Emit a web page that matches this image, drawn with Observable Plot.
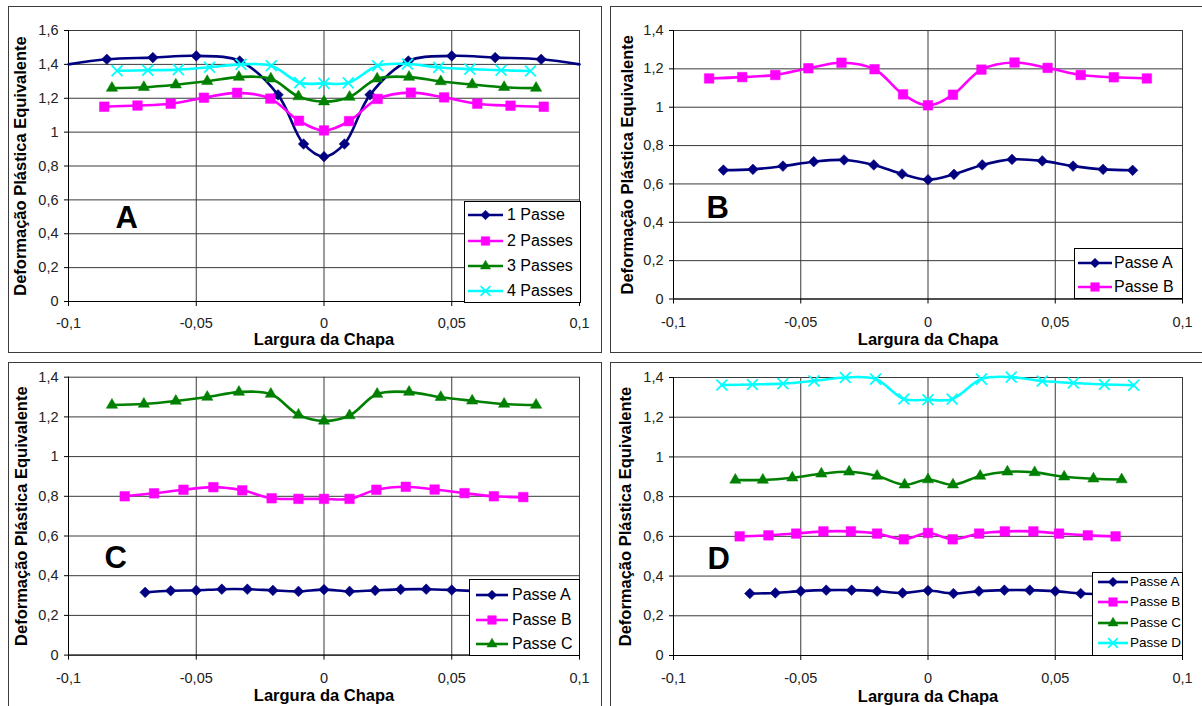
<!DOCTYPE html>
<html><head><meta charset="utf-8">
<script src="https://cdn.jsdelivr.net/npm/d3@7"></script>
<script src="https://cdn.jsdelivr.net/npm/@observablehq/plot@0.6"></script>
<style>
body{margin:0;background:#fff;}
#wrap{position:relative;width:1202px;height:706px;overflow:hidden;font-family:"Liberation Sans",Arial,sans-serif;color:#000;}
.plotbox{position:absolute;}
.frame{position:absolute;border:1px solid #3c3c3c;box-sizing:border-box;pointer-events:none;}
.legend{position:absolute;border:1px solid #000;background:#fff;box-sizing:border-box;}
.legend .lt{position:absolute;white-space:nowrap;line-height:1;}
</style></head><body><div id="wrap"></div>
<script>
// ---------- data ----------
const xTicks = [-0.1, -0.05, 0, 0.05, 0.1];
const yTicks16 = [0, 0.2, 0.4, 0.6, 0.8, 1, 1.2, 1.4, 1.6];
const yTicks14 = [0, 0.2, 0.4, 0.6, 0.8, 1, 1.2, 1.4];
const xLabel = "Largura da Chapa";
const yLabel = "Deformação Plástica Equivalente";

// Panel A
const passe1X = [-0.1, -0.085, -0.067, -0.05, -0.033, -0.018, -0.008, 0, 0.008, 0.018, 0.033, 0.05, 0.067, 0.085, 0.1];
const passe1Y = [1.40, 1.43, 1.44, 1.45, 1.42, 1.22, 0.93, 0.855, 0.93, 1.22, 1.42, 1.45, 1.44, 1.43, 1.40];
const passes2X = [-0.086, -0.073, -0.06, -0.047, -0.034, -0.021, -0.0098, 0, 0.0098, 0.021, 0.034, 0.047, 0.06, 0.073, 0.086];
const passes2Y = [1.15, 1.157, 1.168, 1.203, 1.232, 1.198, 1.067, 1.01, 1.065, 1.196, 1.233, 1.205, 1.168, 1.156, 1.15];
const passes3X = [-0.083, -0.0705, -0.058, -0.0457, -0.0333, -0.0208, -0.01, 0, 0.01, 0.0208, 0.0333, 0.0457, 0.058, 0.0705, 0.083];
const passes3Y = [1.26, 1.265, 1.28, 1.30, 1.325, 1.315, 1.21, 1.18, 1.207, 1.315, 1.325, 1.299, 1.281, 1.265, 1.26];
const passes4X = [-0.081, -0.069, -0.057, -0.0448, -0.0325, -0.0206, -0.0095, 0, 0.0095, 0.021, 0.0327, 0.0449, 0.0571, 0.0693, 0.0808];
const passes4Y = [1.362, 1.365, 1.369, 1.383, 1.40, 1.392, 1.292, 1.288, 1.291, 1.392, 1.402, 1.382, 1.372, 1.365, 1.361];

// Panel B
const bPasseAX = [-0.0804, -0.0688, -0.057, -0.0449, -0.033, -0.0213, -0.0102, 0, 0.0102, 0.0213, 0.033, 0.0449, 0.057, 0.0688, 0.0804];
const bPasseAY = [0.672, 0.676, 0.693, 0.716, 0.725, 0.699, 0.652, 0.622, 0.65, 0.699, 0.728, 0.72, 0.693, 0.676, 0.671];

// Panel C
const cPasseAX = [-0.07, -0.06, -0.05, -0.04, -0.03, -0.02, -0.01, 0, 0.01, 0.02, 0.03, 0.04, 0.05, 0.06, 0.07];
const cPasseAY = [0.316, 0.324, 0.326, 0.332, 0.332, 0.326, 0.321, 0.33, 0.321, 0.326, 0.331, 0.332, 0.328, 0.322, 0.316];
const cPasseBX = [-0.078, -0.0665, -0.055, -0.0433, -0.032, -0.0205, -0.01, 0, 0.01, 0.0205, 0.032, 0.0433, 0.055, 0.0665, 0.078];
const cPasseBY = [0.80, 0.815, 0.833, 0.846, 0.83, 0.79, 0.787, 0.787, 0.787, 0.833, 0.848, 0.834, 0.816, 0.80, 0.796];

// Panel D
const dPasseAX = [-0.07, -0.06, -0.05, -0.04, -0.03, -0.02, -0.01, 0, 0.01, 0.02, 0.03, 0.04, 0.05, 0.06, 0.07];
const dPasseAY = [0.312, 0.315, 0.324, 0.329, 0.329, 0.324, 0.315, 0.327, 0.312, 0.324, 0.329, 0.329, 0.324, 0.312, 0.31];
const dPasseBX = [-0.074, -0.0627, -0.0518, -0.0411, -0.0303, -0.02, -0.0095, 0, 0.0097, 0.0201, 0.0302, 0.0414, 0.0515, 0.0628, 0.0737];
const dPasseBY = [0.60, 0.605, 0.614, 0.625, 0.625, 0.614, 0.585, 0.617, 0.585, 0.614, 0.625, 0.625, 0.614, 0.605, 0.60];
const dPasseCX = [-0.0757, -0.0649, -0.0533, -0.0419, -0.031, -0.02, -0.0092, 0, 0.0098, 0.0205, 0.0312, 0.0419, 0.0535, 0.065, 0.0761];
const dPasseCY = [0.884, 0.884, 0.895, 0.915, 0.925, 0.904, 0.86, 0.886, 0.86, 0.904, 0.925, 0.922, 0.90, 0.89, 0.886];

// ---------- styles ----------
const NAVY = "#000080", MAGENTA = "#ff00ff", GREEN = "#008000", CYAN = "#00ffff";
const sty = {
  diamond: {color: NAVY, sym: d3.symbolDiamond2, r: 4.8, filled: true},
  square: {color: MAGENTA, sym: d3.symbolSquare, r: 5.4, filled: true},
  triangle: {color: GREEN, sym: d3.symbolTriangle, r: 4.2, filled: true},
  times: {color: CYAN, sym: d3.symbolTimes, r: 5.0, filled: false}
};
const fmt = d => String(+(+d).toFixed(3)).replace(".", ",");
const rows = (xs, ys) => xs.map((x, i) => ({x, y: ys[i]}));

const wrap = document.getElementById("wrap");

function seriesMarks(s) {
  const st = sty[s.kind];
  const data = rows(s.x, s.y);
  const pts = data.filter(d => Math.abs(d.x) < 0.0999);
  return [
    Plot.line(data, {x: "x", y: "y", stroke: st.color, strokeWidth: 2.6, curve: "catmull-rom"}),
    Plot.dot(pts, {x: "x", y: "y", symbol: st.sym, r: st.r,
      fill: st.filled ? st.color : "none", stroke: st.color, strokeWidth: st.filled ? 0.5 : 1.8})
  ];
}

function panel(p) {
  const svg = Plot.plot({
    width: p.w, height: p.h,
    marginLeft: p.ml, marginRight: p.mr, marginTop: p.mt, marginBottom: p.mb,
    style: {background: "transparent", fontFamily: "'Liberation Sans', Arial, sans-serif", color: "#000", overflow: "visible"},
    x: {domain: [-0.1, 0.1]},
    y: {domain: [0, p.ymax]},
    marks: [
      Plot.gridX(xTicks, {stroke: "#3a3a3a", strokeOpacity: 1, strokeWidth: 1}),
      Plot.gridY(p.yTicks, {stroke: "#3a3a3a", strokeOpacity: 1, strokeWidth: 1}),
      Plot.ruleX([-0.1], {stroke: "#000"}),
      Plot.ruleY([0], {stroke: "#000"}),
      Plot.axisX({ticks: xTicks, tickFormat: fmt, tickSize: 5, tickPadding: p.xpad, fontSize: 14.5, label: null, stroke: "#000", fill: "#222"}),
      Plot.axisY({ticks: p.yTicks, tickFormat: fmt, tickSize: 4, tickPadding: 6, fontSize: 14.5, label: null, stroke: "#000", fill: "#222"}),
      ...p.series.flatMap(seriesMarks),
      Plot.text([xLabel], {frameAnchor: "bottom", dy: p.xlabDy, lineAnchor: "middle", fontWeight: "bold", fontSize: 16.5}),
      Plot.text([yLabel], {frameAnchor: "left", rotate: -90, dx: p.ylabDx, lineAnchor: "middle", textAnchor: "middle", fontWeight: "bold", fontSize: 16.5}),
      Plot.text([p.letter], {frameAnchor: "top-left", dx: p.letDx, dy: p.letDy, textAnchor: "start", lineAnchor: "top", fontWeight: "bold", fontSize: 31})
    ]
  });
  const box = document.createElement("div");
  box.className = "plotbox";
  box.style.left = p.left + "px"; box.style.top = p.top + "px";
  box.appendChild(svg);
  wrap.appendChild(box);
  const fr = document.createElement("div");
  fr.className = "frame";
  Object.assign(fr.style, {left: p.left + "px", top: p.top + "px", width: p.fw + "px", height: p.fh + "px"});
  wrap.appendChild(fr);
  legend(p.leg, p.series);
}

function legend(L, series) {
  const div = d3.select(wrap).append("div").attr("class", "legend")
    .style("left", L.x + "px").style("top", L.y + "px")
    .style("width", L.w + "px").style("height", L.h + "px");
  series.forEach((s, i) => {
    const st = sty[s.kind];
    const cy = L.rows[i] - L.y - 1;
    const len = L.lineLen;
    const svg = div.append("svg").style("position", "absolute")
      .style("left", (L.lineX - L.x - 1) + "px").style("top", (cy - 8) + "px")
      .attr("width", len).attr("height", 16);
    svg.append("line").attr("x1", 0).attr("x2", len).attr("y1", 8).attr("y2", 8)
      .attr("stroke", st.color).attr("stroke-width", 2.6);
    svg.append("path").attr("d", d3.symbol(st.sym, Math.PI * st.r * st.r * 0.8)())
      .attr("transform", `translate(${len / 2},8)`)
      .attr("fill", st.filled ? st.color : "none").attr("stroke", st.color)
      .attr("stroke-width", st.filled ? 0.5 : 1.8);
    div.append("div").attr("class", "lt")
      .style("left", (L.textX - L.x - 1) + "px").style("top", (cy - L.fs * 0.5) + "px")
      .style("font-size", L.fs + "px").text(s.name);
  });
}

panel({
  letter: "A", left: 8, top: 6, w: 593, h: 346, fw: 594, fh: 347,
  ml: 60, mr: 22, mt: 24, mb: 51, ymax: 1.6, yTicks: yTicks16, xpad: 11,
  xlabDy: 38, ylabDx: -48, letDx: 47, letDy: 175,
  series: [
    {name: "1 Passe", kind: "diamond", x: passe1X, y: passe1Y},
    {name: "2 Passes", kind: "square", x: passes2X, y: passes2Y},
    {name: "3 Passes", kind: "triangle", x: passes3X, y: passes3Y},
    {name: "4 Passes", kind: "times", x: passes4X, y: passes4Y}
  ],
  leg: {x: 464, y: 201, w: 117, h: 102, rows: [215, 240.7, 265.7, 290.7], lineX: 468, lineLen: 35, textX: 507, fs: 16}
});
panel({
  letter: "B", left: 610, top: 6, w: 592, h: 346, fw: 600, fh: 347,
  ml: 63, mr: 20, mt: 24, mb: 53.5, ymax: 1.4, yTicks: yTicks14, xpad: 13,
  xlabDy: 41, ylabDx: -46, letDx: 33, letDy: 165,
  series: [
    {name: "Passe A", kind: "diamond", x: bPasseAX, y: bPasseAY},
    {name: "Passe B", kind: "square", x: passes2X, y: passes2Y}
  ],
  leg: {x: 1074, y: 248, w: 109, h: 51, rows: [263, 287], lineX: 1078, lineLen: 34, textX: 1114, fs: 16}
});
panel({
  letter: "C", left: 8, top: 362, w: 593, h: 344, fw: 594, fh: 400,
  ml: 60, mr: 22, mt: 14.7, mb: 51.4, ymax: 1.4, yTicks: yTicks14, xpad: 12.5,
  xlabDy: 41, ylabDx: -47, letDx: 36, letDy: 169,
  series: [
    {name: "Passe A", kind: "diamond", x: cPasseAX, y: cPasseAY},
    {name: "Passe B", kind: "square", x: cPasseBX, y: cPasseBY},
    {name: "Passe C", kind: "triangle", x: passes3X, y: passes3Y}
  ],
  leg: {x: 469, y: 579, w: 111, h: 77, rows: [595, 619.5, 644], lineX: 476, lineLen: 32, textX: 512, fs: 16}
});
panel({
  letter: "D", left: 610, top: 362, w: 592, h: 344, fw: 600, fh: 400,
  ml: 63, mr: 20, mt: 15, mb: 51, ymax: 1.4, yTicks: yTicks14, xpad: 12.5,
  xlabDy: 41.5, ylabDx: -48, letDx: 34, letDy: 169,
  series: [
    {name: "Passe A", kind: "diamond", x: dPasseAX, y: dPasseAY},
    {name: "Passe B", kind: "square", x: dPasseBX, y: dPasseBY},
    {name: "Passe C", kind: "triangle", x: dPasseCX, y: dPasseCY},
    {name: "Passe D", kind: "times", x: passes4X, y: passes4Y}
  ],
  leg: {x: 1092, y: 572, w: 91, h: 84, rows: [582, 602, 622.5, 643], lineX: 1098, lineLen: 30, textX: 1130, fs: 13.5}
});
</script></body></html>
